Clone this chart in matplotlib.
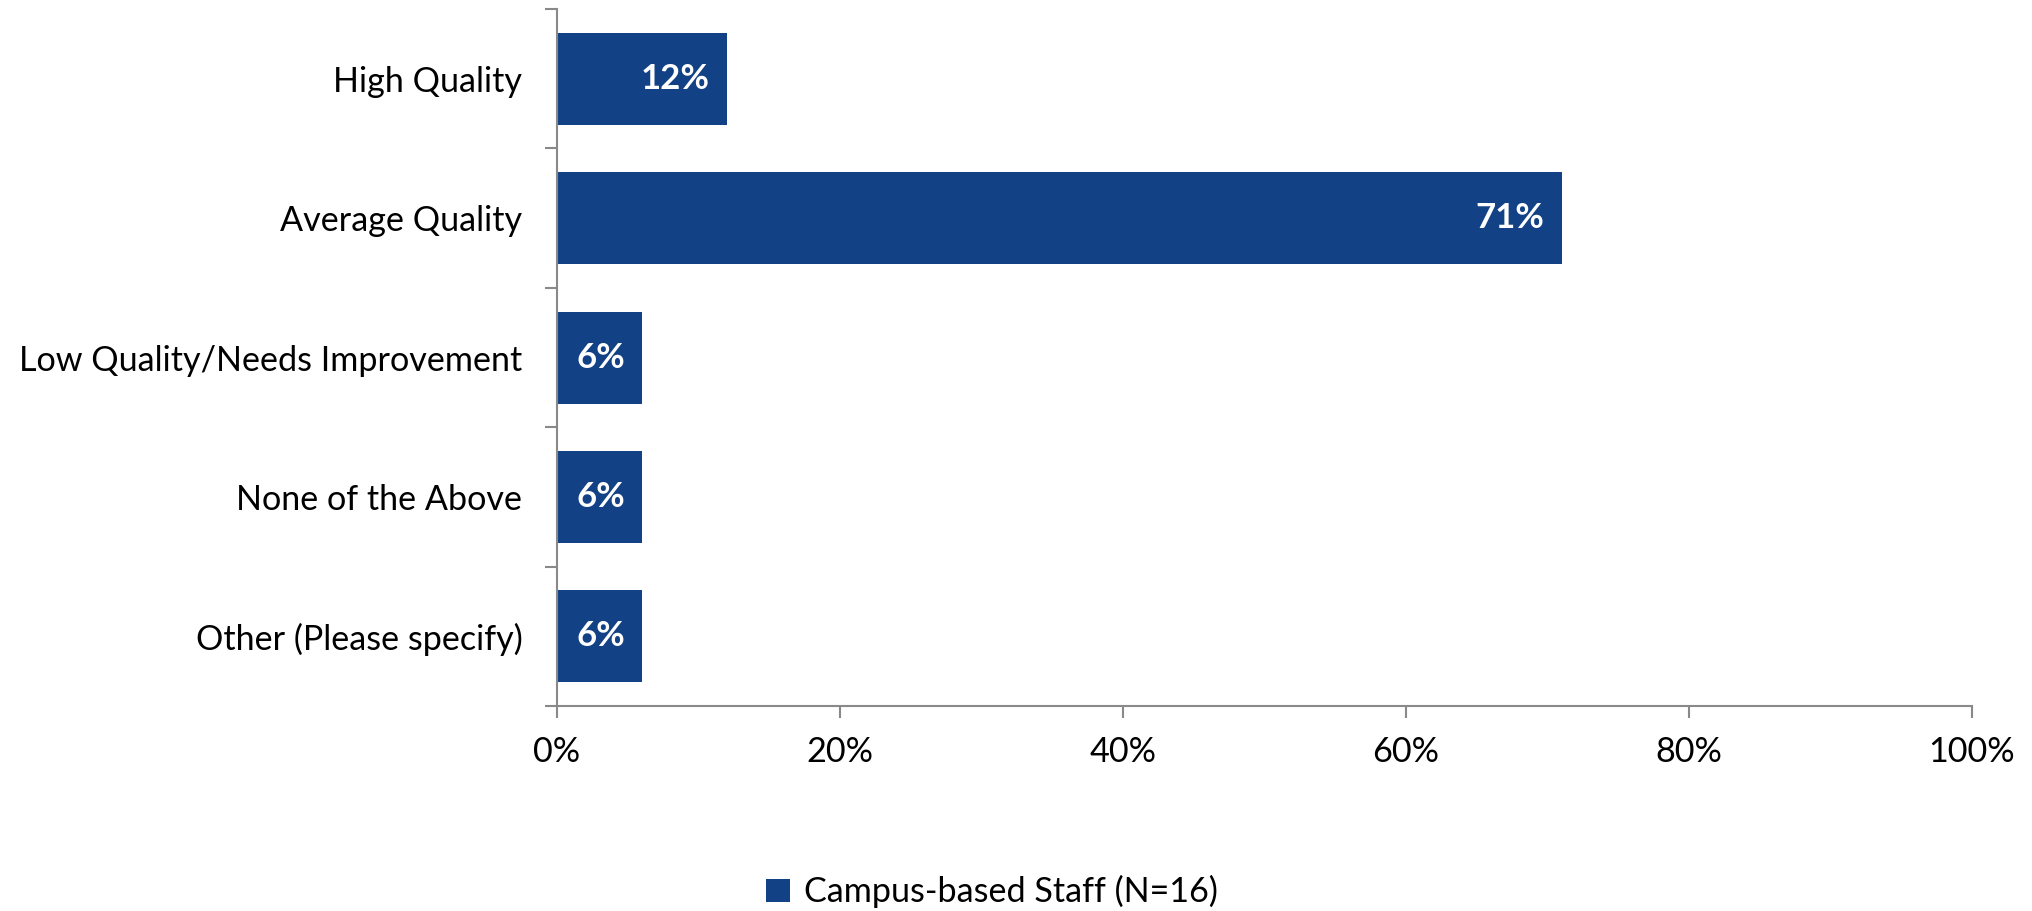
import matplotlib.pyplot as plt
import numpy as np

categories = ["High Quality", "Average Quality", "Low Quality/Needs Improvement",
              "None of the Above", "Other (Please specify)"]
values = [12, 71, 6, 6, 6]
series_name = "Campus-based Staff (N=16)"
xticks = [0, 20, 40, 60, 80, 100]

bar_color = "#124185"
axis_color = "#898989"

plt.rcParams['font.family'] = ['Lato', 'DejaVu Sans']

fig = plt.figure(figsize=(20.33, 9.11), dpi=100)
ax = fig.add_axes([0.274, 0.225, 0.696, 0.765])

y = np.arange(len(categories))
bars = ax.barh(y, values, height=0.66, color=bar_color, label=series_name)

for b, v in zip(bars, values):
    ax.text(b.get_width() - 1.2, b.get_y() + b.get_height() / 2, f"{v}%",
            ha="right", va="center", color="white", fontsize=25, fontweight="bold")

ax.set_xlim(0, 100)
ax.set_ylim(len(categories) - 0.5, -0.5)
ax.set_xticks(xticks)
ax.set_xticklabels([f"{t}%" for t in xticks])
ax.set_yticks(y)
ax.set_yticklabels(categories)
ax.set_yticks(np.arange(-0.5, len(categories)), minor=True)

ax.tick_params(axis="y", which="major", length=0, pad=25, labelsize=24.6)
ax.tick_params(axis="y", which="minor", length=8.5, width=1.5, color=axis_color)
ax.tick_params(axis="x", length=8.5, width=1.5, color=axis_color, pad=13, labelsize=24.6)

for s in ["top", "right"]:
    ax.spines[s].set_visible(False)
for s in ["left", "bottom"]:
    ax.spines[s].set_color(axis_color)
    ax.spines[s].set_linewidth(1.5)

fig.legend(loc="center", bbox_to_anchor=(0.488, 0.021), frameon=False, fontsize=24.6,
           handlelength=0.7, handleheight=0.7, handletextpad=0.4)

plt.savefig("out.png")
